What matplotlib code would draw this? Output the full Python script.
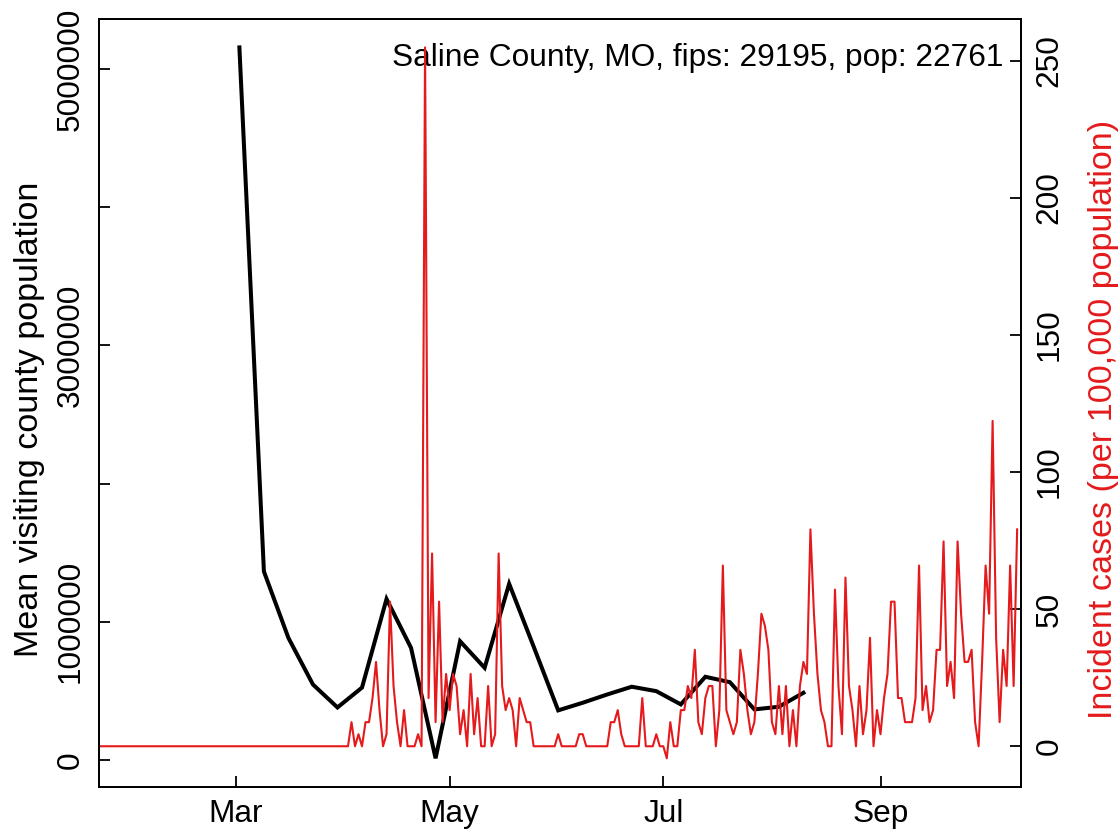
import numpy as np
import pandas as pd
import matplotlib
matplotlib.use('Agg')
import matplotlib.pyplot as plt
import matplotlib.dates as mdates

# County info
county_name = 'Saline County, MO'
fips = 29195
pop = 22761

# Mean visiting county population, weekly (Mondays from 2020-03-02)
visit_start = '2020-03-02'
visit_pop = [5157000, 1364000, 883000, 546000, 380000, 524000, 1165000, 811000,
             12000, 859000, 667000, 1275000, 820000, 359000, 414000, 474000,
             530000, 498000, 402000, 602000, 563000, 366000, 385000, 486000]

# Daily incident cases (counts) from 2020-01-22
case_start = '2020-01-22'
daily_cases = [
    0, 0, 0, 0, 0, 0, 0, 0, 0, 0, 0, 0, 0, 0, 0, 0, 0, 0, 0, 0,
    0, 0, 0, 0, 0, 0, 0, 0, 0, 0, 0, 0, 0, 0, 0, 0, 0, 0, 0, 0,
    0, 0, 0, 0, 0, 0, 0, 0, 0, 0, 0, 0, 0, 0, 0, 0, 0, 0, 0, 0,
    0, 0, 0, 0, 0, 0, 0, 0, 0, 0, 0,
    0, 2, 0, 1, 0, 2, 2, 4, 7, 3,          # day 71-80
    0, 1, 12, 5, 2, 0, 3, 0, 0, 0,         # 81-90
    1, 0, 58, 4, 16, 2, 12, 2, 6, 3,       # 91-100
    6, 5, 1, 3, 0, 6, 1, 4, 0, 0,          # 101-110
    5, 0, 1, 16, 5, 3, 4, 3, 0, 4,         # 111-120
    3, 2, 2, 0, 0, 0, 0, 0, 0, 0,          # 121-130
    1, 0, 0, 0, 0, 0, 1, 1, 0, 0,          # 131-140
    0, 0, 0, 0, 0, 2, 2, 3, 1, 0,          # 141-150
    0, 0, 0, 0, 4, 0, 0, 0, 1, 0,          # 151-160
    0, -1, 2, 0, 0, 3, 3, 5, 4, 8,         # 161-170
    2, 1, 4, 5, 5, 0, 3, 15, 3, 2,         # 171-180
    1, 2, 8, 6, 3, 1, 2, 6, 11, 10,        # 181-190
    8, 2, 1, 5, 1, 5, 0, 3, 0, 5,          # 191-200
    7, 6, 18, 11, 6, 3, 2, 0, 0, 13,       # 201-210
    5, 1, 14, 5, 3, 0, 5, 1, 3, 9,         # 211-220
    0, 3, 1, 4, 6, 12, 12, 4, 4, 2,        # 221-230
    2, 2, 4, 15, 3, 5, 2, 3, 8, 8,         # 231-240
    17, 5, 7, 4, 17, 11, 7, 7, 8, 2,       # 241-250
    0, 7, 15, 11, 27, 9, 2, 8, 5, 15,      # 251-260
    5, 18,                                 # 261-262
]

red = '#E41A1C'

case_dates = pd.date_range(case_start, periods=len(daily_cases), freq='D')
incidence = np.array(daily_cases) / pop * 100000
visit_dates = pd.date_range(visit_start, periods=len(visit_pop), freq='7D')

plt.rcParams['font.family'] = ['Liberation Sans', 'DejaVu Sans']
fs = 22.8
fs_lab = 24.6

fig = plt.figure(figsize=(11.19, 8.32), dpi=100)
ax = fig.add_axes([0.0887, 0.0544, 0.8234, 0.9228])

ax.plot(visit_dates, visit_pop, color='black', lw=2.9, solid_joinstyle='miter')
ax.set_xlim(case_dates[0], case_dates[-1] + pd.Timedelta(days=1))
lo, hi = min(visit_pop), max(visit_pop)
r = hi - lo
ax.set_ylim(lo - 0.04 * r, hi + 0.04 * r)
ax.set_yticks([0, 1000000, 2000000, 3000000, 4000000, 5000000])
ax.set_yticklabels(['0', '1000000', '', '3000000', '', '5000000'])
ax.set_ylabel('Mean visiting county population', fontsize=fs_lab)
ax.yaxis.set_label_coords(-0.059, 0.478)
for lab in ax.get_yticklabels():
    lab.set_rotation(90)
    lab.set_va('center')

ax.xaxis.set_major_locator(mdates.MonthLocator(bymonth=[3, 5, 7, 9]))
ax.xaxis.set_major_formatter(mdates.DateFormatter('%b'))

ax.text(0.981, 0.949, f'{county_name}, fips: {fips}, pop: {pop}',
        transform=ax.transAxes, ha='right', va='center', fontsize=fs)

ax2 = ax.twinx()
ax2.plot(case_dates, incidence, color=red, lw=1.5)
lo2, hi2 = incidence.min(), incidence.max()
r2 = hi2 - lo2
ax2.set_ylim(lo2 - 0.04 * r2, hi2 + 0.04 * r2)
ax2.set_yticks([0, 50, 100, 150, 200, 250])
ax2.set_ylabel('Incident cases (per 100,000 population)', color=red,
               fontsize=fs_lab)
ax2.yaxis.set_label_coords(1.073, 0.478)
for lab in ax2.get_yticklabels():
    lab.set_rotation(90)
    lab.set_va('center')

for a in (ax, ax2):
    a.tick_params(direction='in', length=8, width=1.3, labelsize=fs, pad=10)
    for s in a.spines.values():
        s.set_linewidth(1.3)
ax.tick_params(axis='x', pad=9)

fig.savefig('out.png', dpi=100)
